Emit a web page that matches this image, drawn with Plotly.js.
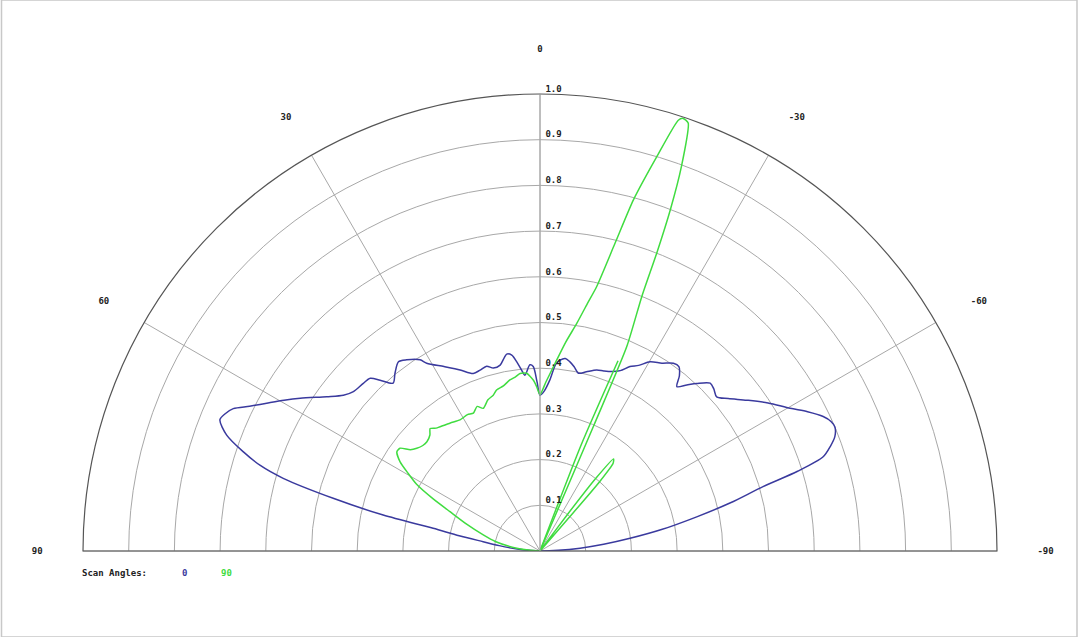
<!DOCTYPE html>
<html>
<head>
<meta charset="utf-8">
<script src="https://cdn.plot.ly/plotly-3.0.1.min.js"></script>
<style>
  html, body { margin: 0; padding: 0; background: #fff; }
  #chart { width: 1080px; height: 637px; }
</style>
</head>
<body>
<div id="chart"></div>
<script>
// scan angle 0 pattern (theta in degrees, r normalised)
const blueTheta = [90, 87, 85, 82.5, 80.7, 79.3, 78, 77.1, 75.7, 74.2, 73, 71.5, 69.7, 67.7, 66.5, 65.1, 63.5, 61.6, 59.5, 57.5,
  54.1, 51.6, 49.5, 46.5, 44.5, 43.1, 41.2, 39.2, 36.8, 34.9, 32.1, 31.1, 27.5, 23.8, 20.6, 18.3, 16.1, 14.3, 12.1, 10.5,
  9.6, 8.2, 7, 5.8, 4.9, 3.1, 2.1, 1, 0, -1.5, -3.3, -4.8, -6, -7.5, -9, -10.5, -12.2, -14.5, -17.4, -19.5,
  -21.8, -24, -26, -28, -30.2, -33, -35.4, -37, -38.5, -39.8, -41.5, -43.1, -45.4, -47, -48.9, -51, -53.9, -57, -60.3, -62.5,
  -64.6, -66, -67.2, -68.8, -70.2, -71.6, -72.8, -73.9, -75.8, -77.7, -80, -82, -84, -86, -88, -90];
const blueR = [0, 0.02, 0.05, 0.09, 0.126, 0.18, 0.239, 0.352, 0.467, 0.584, 0.64, 0.685, 0.731, 0.757, 0.752, 0.74, 0.71, 0.68, 0.65, 0.622,
  0.576, 0.549, 0.537, 0.533, 0.53, 0.512, 0.488, 0.502, 0.517, 0.51, 0.494, 0.48, 0.455, 0.433, 0.415, 0.417, 0.421, 0.413, 0.416, 0.43,
  0.437, 0.433, 0.417, 0.398, 0.386, 0.408, 0.404, 0.37, 0.341, 0.35, 0.375, 0.41, 0.42, 0.425, 0.419, 0.41, 0.398, 0.405, 0.415, 0.418,
  0.423, 0.432, 0.449, 0.46, 0.479, 0.49, 0.504, 0.505, 0.49, 0.468, 0.485, 0.502, 0.523, 0.52, 0.513, 0.53, 0.56, 0.595, 0.63, 0.66,
  0.686, 0.697, 0.7, 0.692, 0.675, 0.653, 0.59, 0.508, 0.43, 0.351, 0.27, 0.199, 0.14, 0.088, 0.04, 0];

// scan angle 90 pattern
const greenTheta = [90, 86, 83.4, 78, 74.2, 70, 66.4, 64, 61.6, 59.5, 57.5, 55.3, 53.7, 52, 50.2, 48, 46, 43.5, 41.9, 40.2,
  38.8, 35, 31.4, 28, 25.8, 23.5, 21.7, 19, 16.7, 15.1, 12.5, 10, 8, 6.4, 4.3, 2.2, 1.2, 0, -2, -4.6,
  -7, -9.2, -10.8, -12.1, -13.7, -14.9, -16.5, -17.8, -18.3, -19.1, -20.2, -20.9, -21.4, -21.8, -23, -23.2, -23.4, -30, -36.5, -36.9,
  -37.5, -38.6, -39.8, -40.7, -41, -41.3, -44, -90, null, -20.8, -21.2, -22.3];
const greenR = [0, 0.02, 0.051, 0.1, 0.129, 0.17, 0.215, 0.26, 0.307, 0.335, 0.363, 0.381, 0.38, 0.36, 0.351, 0.345, 0.344, 0.35, 0.36, 0.352,
  0.349, 0.342, 0.336, 0.338, 0.335, 0.345, 0.336, 0.35, 0.356, 0.365, 0.37, 0.38, 0.385, 0.391, 0.39, 0.374, 0.36, 0.342, 0.37, 0.412,
  0.46, 0.505, 0.55, 0.592, 0.693, 0.795, 0.9, 0.99, 0.997, 0.991, 0.896, 0.8, 0.7, 0.6, 0.486, 0.3, 0, 0, 0, 0.1,
  0.2, 0.258, 0.25, 0.2, 0.1, 0, 0, 0, null, 0, 0.25, 0.45];

const angleTicks = [0, 30, 60, 90, -30, -60, -90];
const angleLabels = ['0', '30', '60', '90', '-30', '-60', '-90'];
const radialTicks = [0.1, 0.2, 0.3, 0.4, 0.5, 0.6, 0.7, 0.8, 0.9, 1.0];

const monoFont = {family: 'DejaVu Sans Mono, monospace', size: 9, color: '#222', weight: 'bold'};
const blueColor = '#3a3a9e';
const greenColor = '#40dc40';

const data = [
  {
    type: 'scatterpolar', mode: 'lines', name: '0',
    theta: blueTheta, r: blueR,
    line: {color: blueColor, width: 1.5, shape: 'spline', smoothing: 0.8},
    hoverinfo: 'skip'
  },
  {
    type: 'scatterpolar', mode: 'lines', name: '90',
    theta: greenTheta, r: greenR, connectgaps: false,
    line: {color: greenColor, width: 1.5, shape: 'spline', smoothing: 0.6},
    hoverinfo: 'skip'
  },
  {
    // radial tick labels, drawn along the 0 direction
    type: 'scatterpolar', mode: 'text',
    theta: radialTicks.map(() => 0), r: radialTicks,
    text: radialTicks.map(v => '\u00a0' + v.toFixed(1)),
    textposition: 'top right',
    textfont: monoFont,
    cliponaxis: false,
    hoverinfo: 'skip'
  }
];

const layout = {
  width: 1080, height: 637,
  margin: {l: 0, r: 0, t: 0, b: 0},
  paper_bgcolor: '#fff',
  showlegend: false,
  polar: {
    domain: {x: [83 / 1080, 997 / 1080], y: [(637 - 551) / 637, (637 - 94) / 637]},
    sector: [0, 180],
    bgcolor: '#fff',
    angularaxis: {
      rotation: 90, direction: 'counterclockwise',
      tickmode: 'array', tickvals: angleTicks, ticktext: angleLabels,
      ticks: 'outside', ticklen: 38, tickcolor: 'rgba(0,0,0,0)',
      showline: true, linecolor: '#555', linewidth: 1.2,
      gridcolor: '#a8a8a8', gridwidth: 1,
      tickfont: monoFont
    },
    radialaxis: {
      range: [0, 1], angle: 90,
      tickmode: 'array', tickvals: radialTicks,
      showticklabels: false, ticks: '',
      showline: true, linecolor: '#a8a8a8', linewidth: 1,
      gridcolor: '#a8a8a8', gridwidth: 1
    }
  },
  annotations: [
    {text: 'Scan Angles:', x: 80 / 1080, y: 64 / 637, xref: 'paper', yref: 'paper',
     xanchor: 'left', yanchor: 'middle', showarrow: false, font: monoFont},
    {text: '0', x: 184 / 1080, y: 64 / 637, xref: 'paper', yref: 'paper',
     xanchor: 'center', yanchor: 'middle', showarrow: false, font: {...monoFont, color: blueColor}},
    {text: '90', x: 226 / 1080, y: 64 / 637, xref: 'paper', yref: 'paper',
     xanchor: 'center', yanchor: 'middle', showarrow: false, font: {...monoFont, color: greenColor}}
  ],
  shapes: [
    {type: 'rect', xref: 'paper', yref: 'paper', x0: 1.5 / 1080, x1: 1077 / 1080, y0: 0, y1: 1,
     line: {color: '#c8c8c8', width: 1.5}}
  ]
};

Plotly.newPlot('chart', data, layout, {staticPlot: true});
</script>
</body>
</html>
